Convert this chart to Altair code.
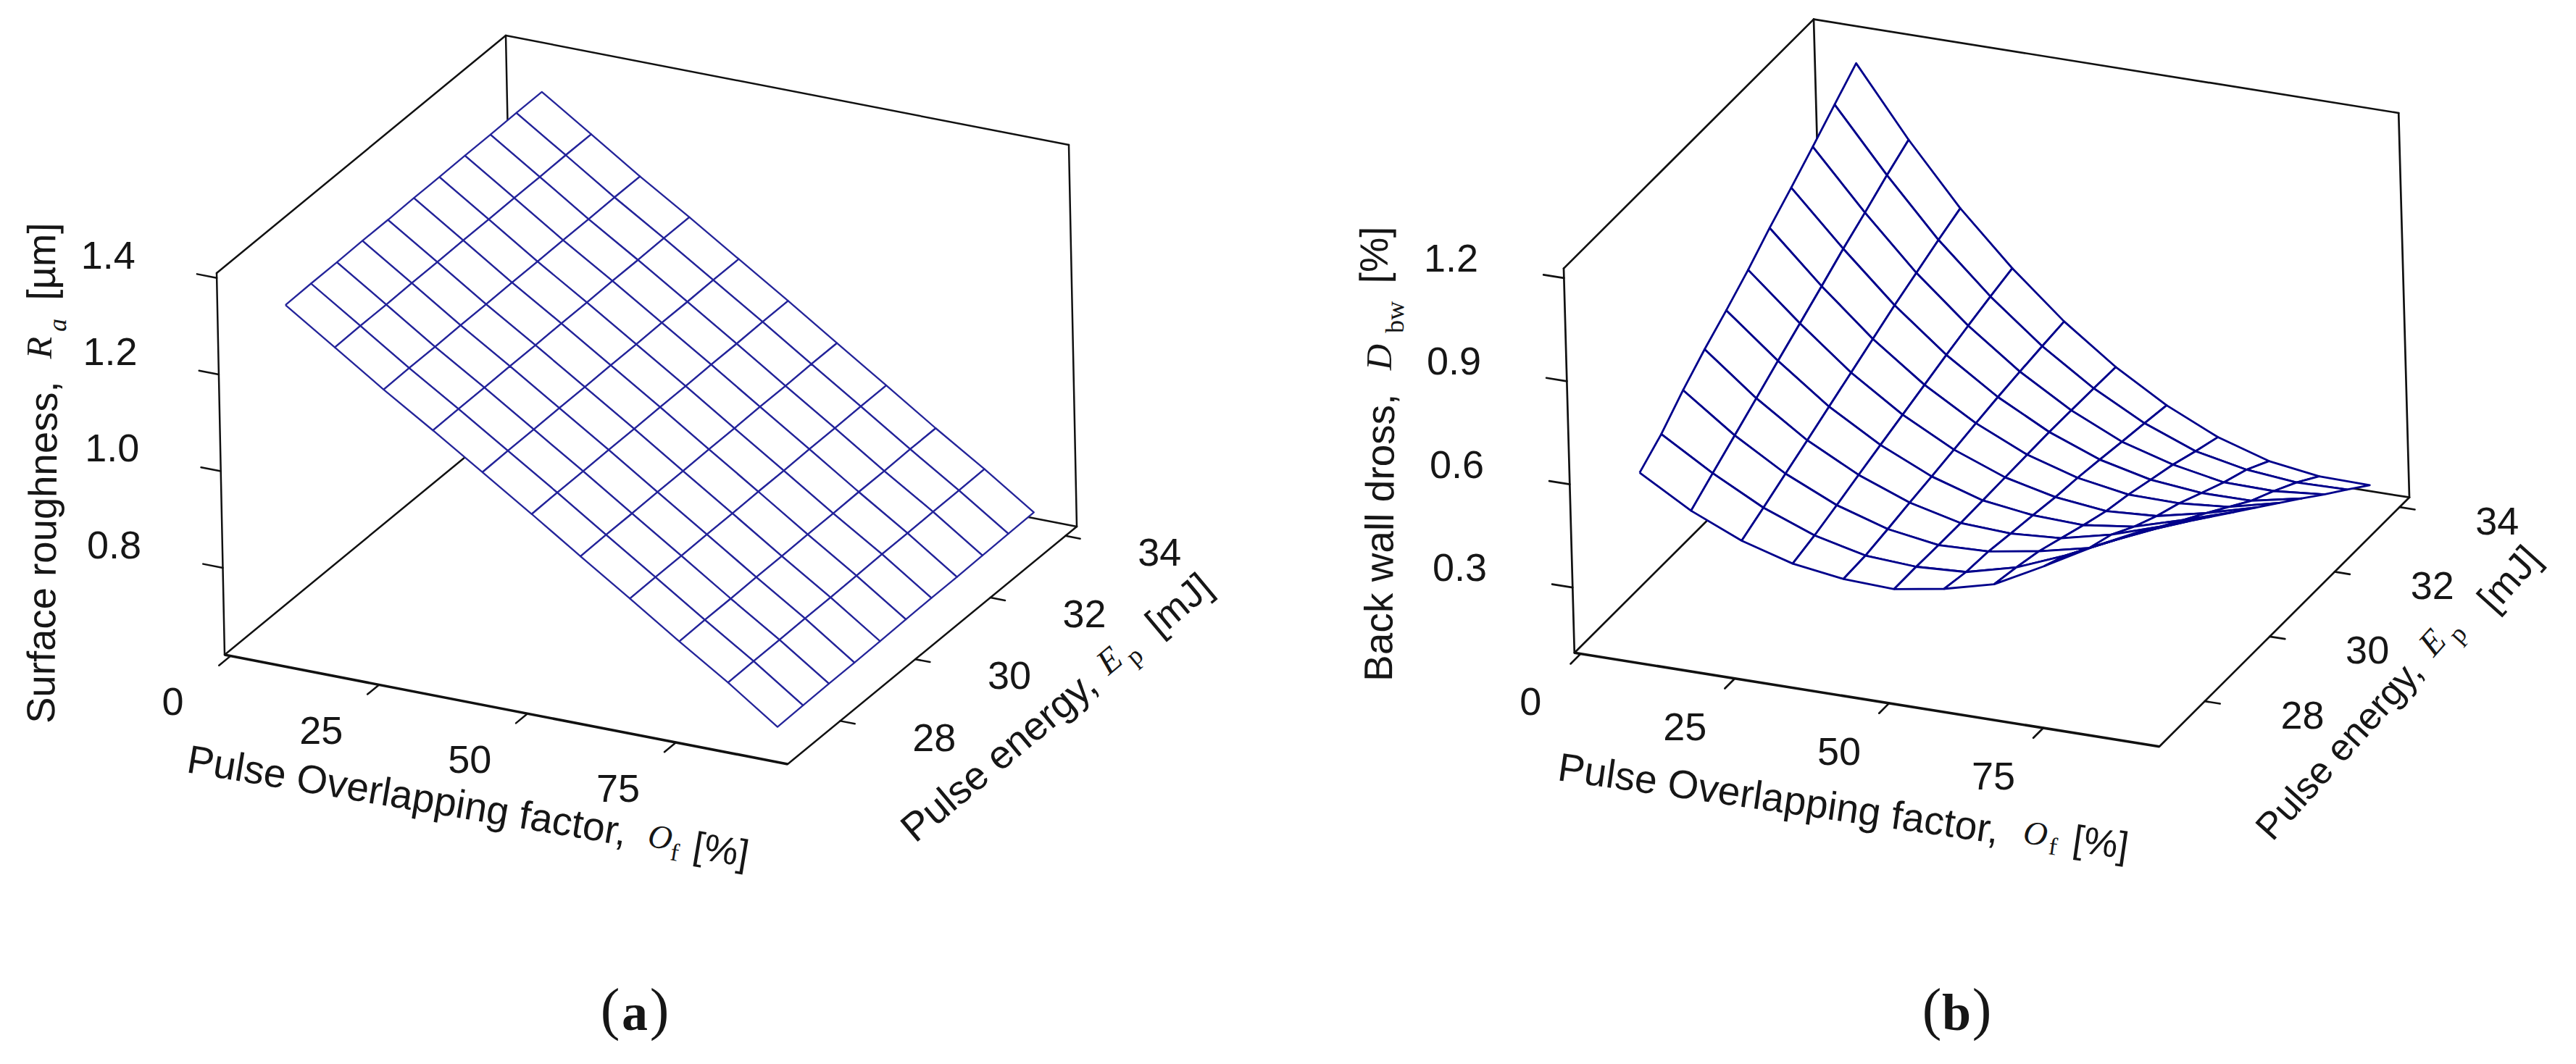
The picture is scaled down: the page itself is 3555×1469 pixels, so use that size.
import altair as alt
import pandas as pd

# ---- axis ranges and ticks ------------------------------------------------
OF_RANGE = [-1.0, 93.8]
EP_RANGE = [26.6, 34.3]
OF_TICKS = [0, 25, 50, 75]
EP_TICKS = [28, 30, 32, 34]
Z_RANGE_A = [0.62, 1.41]
Z_TICKS_A = [0.8, 1.0, 1.2, 1.4]
Z_RANGE_B = [0.11, 1.228]
Z_TICKS_B = [0.3, 0.6, 0.9, 1.2]

OF_GRID = [10.0, 18.2, 26.3, 34.5, 42.7, 50.9, 59.0, 67.2, 75.4, 83.5, 91.7]
EP_GRID = [26.68, 27.36, 28.05, 28.73, 29.41, 30.10, 30.78, 31.46, 32.14, 32.83, 33.51]

# rows: pulse energy (low to high); columns: overlapping factor (low to high)
Z_A = [
    [1.365, 1.297, 1.229, 1.164, 1.097, 1.030, 0.962, 0.894, 0.825, 0.759, 0.687],
    [1.366, 1.298, 1.230, 1.165, 1.098, 1.031, 0.963, 0.895, 0.826, 0.760, 0.688],
    [1.366, 1.298, 1.230, 1.165, 1.098, 1.031, 0.963, 0.895, 0.826, 0.760, 0.689],
    [1.367, 1.299, 1.231, 1.166, 1.099, 1.032, 0.964, 0.896, 0.827, 0.761, 0.689],
    [1.367, 1.299, 1.231, 1.166, 1.099, 1.032, 0.964, 0.896, 0.827, 0.761, 0.690],
    [1.368, 1.300, 1.232, 1.167, 1.100, 1.033, 0.965, 0.897, 0.828, 0.762, 0.691],
    [1.368, 1.300, 1.232, 1.167, 1.100, 1.033, 0.965, 0.897, 0.828, 0.763, 0.692],
    [1.369, 1.301, 1.233, 1.168, 1.101, 1.034, 0.966, 0.898, 0.829, 0.763, 0.692],
    [1.369, 1.301, 1.233, 1.168, 1.101, 1.034, 0.966, 0.898, 0.829, 0.764, 0.693],
    [1.370, 1.302, 1.234, 1.169, 1.102, 1.035, 0.967, 0.899, 0.830, 0.764, 0.694],
    [1.370, 1.302, 1.234, 1.169, 1.102, 1.035, 0.967, 0.899, 0.830, 0.765, 0.695],
]
Z_B = [
    [0.658, 0.571, 0.507, 0.464, 0.443, 0.437, 0.461, 0.498, 0.574, 0.654, 0.725],
    [0.706, 0.616, 0.539, 0.482, 0.447, 0.438, 0.446, 0.483, 0.542, 0.610, 0.674],
    [0.769, 0.661, 0.573, 0.505, 0.459, 0.436, 0.441, 0.465, 0.498, 0.566, 0.623],
    [0.824, 0.705, 0.606, 0.529, 0.472, 0.436, 0.429, 0.439, 0.473, 0.520, 0.572],
    [0.873, 0.750, 0.640, 0.552, 0.484, 0.438, 0.418, 0.413, 0.432, 0.475, 0.521],
    [0.926, 0.794, 0.674, 0.575, 0.497, 0.440, 0.406, 0.389, 0.398, 0.430, 0.470],
    [0.984, 0.838, 0.708, 0.598, 0.510, 0.442, 0.398, 0.373, 0.371, 0.384, 0.419],
    [1.037, 0.883, 0.742, 0.621, 0.522, 0.444, 0.387, 0.352, 0.337, 0.338, 0.368],
    [1.092, 0.924, 0.772, 0.642, 0.532, 0.443, 0.375, 0.332, 0.304, 0.302, 0.316],
    [1.150, 0.968, 0.803, 0.662, 0.541, 0.442, 0.364, 0.306, 0.276, 0.262, 0.265],
    [1.206, 1.007, 0.831, 0.680, 0.549, 0.440, 0.352, 0.283, 0.237, 0.216, 0.214],
]

SANS = "Liberation Sans"
SERIF = "Liberation Serif"
INK = "#161616"

PANELS = {
    "a": dict(
        O=(310, 904), U=(777, 151), V=(399, -328), W=(-11, -527),
        zrange=Z_RANGE_A, zticks=Z_TICKS_A, table=Z_A, xdom=[8, 1778],
        mesh="#24249a", meshw=2.3, boxw=2.5, basew=3.6,
        texts=[
            ("Surface roughness,", 75, 999, 270.5, SANS, "normal", "normal", 54.5, "left", "alphabetic"),
            ("R", 56, 480, 270.5, SERIF, "italic", "normal", 50, "center", "middle"),
            ("a", 80, 449, 270.5, SERIF, "italic", "normal", 36, "center", "middle"),
            ("[µm]", 60, 361, 270.5, SANS, "normal", "normal", 54.5, "center", "middle"),
            ("Pulse Overlapping factor,", 256, 1066, 9.5, SANS, "normal", "normal", 55, "left", "alphabetic"),
            ("O", 911, 1157, 9.5, SERIF, "italic", "normal", 46, "center", "middle"),
            ("f", 931, 1178, 9.5, SERIF, "normal", "normal", 34, "center", "middle"),
            ("[%]", 995, 1175, 9.5, SANS, "normal", "normal", 53, "center", "middle"),
            ("Pulse energy,", 1263, 1165, 320, SANS, "normal", "normal", 55, "left", "alphabetic"),
            ("E", 1532, 913, 320, SERIF, "italic", "normal", 48, "center", "middle"),
            ("p", 1566, 906, 320, SERIF, "normal", "normal", 36, "center", "middle"),
            ("[mJ]", 1628, 836, 320, SANS, "normal", "normal", 53, "center", "middle"),
            ("(", 842, 1396, 0, SERIF, "normal", "normal", 80, "center", "middle"),
            ("a", 876, 1400, 0, SERIF, "normal", "bold", 72, "center", "middle"),
            (")", 910, 1396, 0, SERIF, "normal", "normal", 80, "center", "middle"),
        ],
    ),
    "b": dict(
        O=(2172.8, 901.3), U=(807.2, 129.4), V=(345, -344), W=(-14.8, -530.7),
        zrange=Z_RANGE_B, zticks=Z_TICKS_B, table=Z_B, xdom=[1778, 3547],
        mesh="#00008b", meshw=2.8, boxw=2.7, basew=3.6,
        texts=[
            ("Back wall dross,", 1921, 941, 270.5, SANS, "normal", "normal", 55, "left", "alphabetic"),
            ("D", 1905, 493, 270.5, SERIF, "italic", "normal", 50, "center", "middle"),
            ("bw", 1926, 438, 270.5, SERIF, "normal", "normal", 36, "center", "middle"),
            ("[%]", 1899, 352, 270.5, SANS, "normal", "normal", 54.5, "center", "middle"),
            ("Pulse Overlapping factor,", 2148, 1077, 8.2, SANS, "normal", "normal", 55, "left", "alphabetic"),
            ("O", 2809, 1152, 8.2, SERIF, "italic", "normal", 46, "center", "middle"),
            ("f", 2833, 1170, 8.2, SERIF, "normal", "normal", 34, "center", "middle"),
            ("[%]", 2899, 1165, 8.2, SANS, "normal", "normal", 53, "center", "middle"),
            ("Pulse energy,", 3136, 1163, 312, SANS, "normal", "normal", 52, "left", "alphabetic"),
            ("E", 3358, 888, 312, SERIF, "italic", "normal", 48, "center", "middle"),
            ("p", 3392, 876, 312, SERIF, "normal", "normal", 36, "center", "middle"),
            ("[mJ]", 3464, 800, 312, SANS, "normal", "normal", 53, "center", "middle"),
            ("(", 2666, 1396, 0, SERIF, "normal", "normal", 80, "center", "middle"),
            ("b", 2700, 1400, 0, SERIF, "normal", "bold", 72, "center", "middle"),
            (")", 2735, 1396, 0, SERIF, "normal", "normal", 80, "center", "middle"),
        ],
    ),
}

HEIGHT = 1453
YDOM = [1461, 8]


def panel(cfg):
    zr = cfg["zrange"]

    def project(of, ep, z):
        u = (of - OF_RANGE[0]) / (OF_RANGE[1] - OF_RANGE[0])
        v = (ep - EP_RANGE[0]) / (EP_RANGE[1] - EP_RANGE[0])
        w = (z - zr[0]) / (zr[1] - zr[0])
        px = cfg["O"][0] + u * cfg["U"][0] + v * cfg["V"][0] + w * cfg["W"][0]
        py = cfg["O"][1] + u * cfg["U"][1] + v * cfg["V"][1] + w * cfg["W"][1]
        return px, py

    xs = alt.X("px:Q", axis=None, scale=alt.Scale(domain=cfg["xdom"], nice=False, zero=False))
    ys = alt.Y("py:Q", axis=None, scale=alt.Scale(domain=YDOM, nice=False, zero=False))

    of0, of1 = OF_RANGE
    ep0, ep1 = EP_RANGE
    z0, z1 = zr
    edges = [
        ((of0, ep1, z1), (of1, ep1, z1)),
        ((of0, ep1, z1), (of0, ep0, z1)),
        ((of0, ep0, z1), (of0, ep0, z0)),
        ((of1, ep0, z0), (of1, ep1, z0)),
        ((of1, ep1, z0), (of0, ep1, z0)),
        ((of0, ep1, z0), (of0, ep0, z0)),
        ((of0, ep1, z0), (of0, ep1, z1)),
        ((of1, ep1, z0), (of1, ep1, z1)),
    ]
    dof = of1 - of0
    dep = ep1 - ep0
    for t in OF_TICKS:
        edges.append(((t, ep0, z0), (t, ep0 - 0.04 * dep, z0)))
    for t in EP_TICKS:
        edges.append(((of1, t, z0), (of1 + 0.026 * dof, t, z0)))
    for t in cfg["zticks"]:
        edges.append(((of0, ep0, t), (of0 - 0.035 * dof, ep0, t)))

    rows = []
    for n, (p, q) in enumerate(edges):
        for k, pt in enumerate((p, q)):
            px, py = project(*pt)
            rows.append(dict(seg=n, k=k, px=px, py=py))
    box = alt.Chart(pd.DataFrame(rows)).mark_line(
        color="#111111", strokeWidth=cfg["boxw"], strokeCap="round"
    ).encode(x=xs, y=ys, detail="seg:N", order="k:Q")

    bx0, by0 = project(of0, ep0, z0)
    bx1, by1 = project(of1, ep0, z0)
    base = alt.Chart(
        pd.DataFrame([dict(k=0, px=bx0, py=by0), dict(k=1, px=bx1, py=by1)])
    ).mark_line(color="#111111", strokeWidth=cfg["basew"]).encode(x=xs, y=ys, order="k:Q")

    # cells, painted from the far corner to the near one so that the front hides the back
    table = cfg["table"]
    cells = []
    cid = 0
    for j in range(len(EP_GRID) - 2, -1, -1):
        for i in range(len(OF_GRID) - 1):
            corners = [(i, j), (i + 1, j), (i + 1, j + 1), (i, j + 1), (i, j)]
            for k, (a, b) in enumerate(corners):
                px, py = project(OF_GRID[a], EP_GRID[b], table[b][a])
                cells.append(dict(cell=cid, k=k, px=px, py=py))
            cid += 1
    mesh = alt.Chart(pd.DataFrame(cells)).mark_line(
        fill="white", stroke=cfg["mesh"], strokeWidth=cfg["meshw"], strokeJoin="round"
    ).encode(x=xs, y=ys, detail="cell:N", order="k:Q")

    labels = []
    for t in OF_TICKS:
        px, py = project(t, ep0 - 0.2 * dep, z0)
        labels.append(dict(px=px, py=py, t=str(t)))
    for t in EP_TICKS:
        px, py = project(of1 + 0.167 * dof, t, z0)
        labels.append(dict(px=px, py=py, t=str(t)))
    for t in cfg["zticks"]:
        px, py = project(of0 - 0.193 * dof, ep0, t)
        labels.append(dict(px=px, py=py, t=f"{t:.1f}"))
    tick_text = alt.Chart(pd.DataFrame(labels)).mark_text(
        font=SANS, fontSize=54, color=INK, align="center", baseline="middle"
    ).encode(x=xs, y=ys, text="t:N")

    layers = [box, base, mesh, tick_text]
    for t, x, y, ang, font, style, weight, size, align, bl in cfg["texts"]:
        layers.append(
            alt.Chart(pd.DataFrame([dict(px=x, py=y, t=t)])).mark_text(
                font=font, fontStyle=style, fontWeight=weight, fontSize=size, angle=ang,
                align=align, baseline=bl, color=INK,
            ).encode(x=xs, y=ys, text="t:N")
        )
    return alt.layer(*layers).properties(
        width=cfg["xdom"][1] - cfg["xdom"][0], height=HEIGHT
    )


chart = (
    alt.hconcat(panel(PANELS["a"]), panel(PANELS["b"]), spacing=0)
    .properties(padding=0, background="white")
    .configure_view(stroke=None)
)
chart.save("out.html", embed_options={"renderer": "svg", "actions": False})
